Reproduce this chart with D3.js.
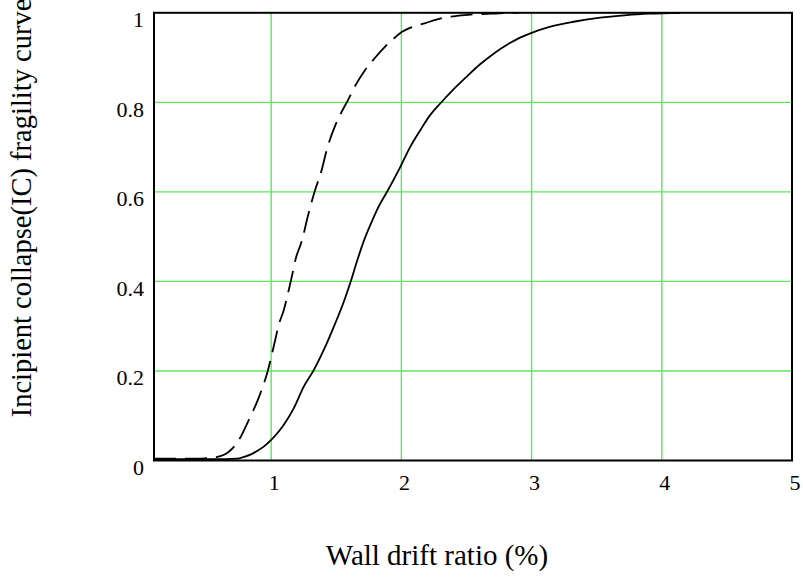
<!DOCTYPE html>
<html>
<head>
<meta charset="utf-8">
<script src="https://cdn.jsdelivr.net/npm/d3@7"></script>
<style>
  html, body { margin: 0; padding: 0; background: #fff; }
  svg { display: block; }
  text { font-family: "Liberation Serif", "Times New Roman", serif; fill: #000; }
</style>
</head>
<body>
<svg id="chart" width="803" height="577"></svg>
<script>
// Wall drift ratio (%) vs. probability of incipient collapse
const driftDashed = [0.1, 0.2, 0.3, 0.4, 0.5, 0.56, 0.6, 0.662, 0.726, 0.77, 0.816, 0.855, 0.893, 0.935, 0.969, 1.0,
  1.03, 1.058, 1.097, 1.135, 1.161, 1.186, 1.238, 1.281, 1.335, 1.384, 1.43, 1.493, 1.54, 1.588, 1.647, 1.711,
  1.793, 1.877, 1.94, 1.992, 2.09, 2.184, 2.26, 2.325, 2.427, 2.53, 2.63, 2.75, 2.9];
const probDashed = [0.004, 0.004, 0.004, 0.004, 0.005, 0.006, 0.009, 0.017, 0.035, 0.055, 0.083, 0.107, 0.132, 0.165, 0.195, 0.231,
  0.268, 0.303, 0.336, 0.381, 0.414, 0.448, 0.493, 0.545, 0.602, 0.645, 0.697, 0.749, 0.778, 0.804, 0.838, 0.868,
  0.898, 0.925, 0.942, 0.955, 0.969, 0.977, 0.984, 0.989, 0.993, 0.996, 0.997, 0.999, 1.0];

const driftSolid = [0.1, 0.3, 0.5, 0.65, 0.74, 0.79, 0.84, 0.89, 0.943, 1.0, 1.05, 1.097, 1.174, 1.25, 1.327, 1.404,
  1.48, 1.557, 1.609, 1.66, 1.711, 1.76, 1.813, 1.903, 1.992, 2.069, 2.15, 2.222, 2.3, 2.4, 2.5, 2.6, 2.683,
  2.76, 2.837, 2.9, 2.99, 3.144, 3.322, 3.527, 3.732, 3.91, 4.14];
const probSolid = [0.003, 0.003, 0.003, 0.003, 0.004, 0.008, 0.013, 0.021, 0.031, 0.046, 0.062, 0.08, 0.117, 0.165, 0.202, 0.247,
  0.298, 0.354, 0.398, 0.446, 0.49, 0.525, 0.56, 0.607, 0.656, 0.701, 0.74, 0.772, 0.798, 0.829, 0.857, 0.884, 0.903,
  0.919, 0.933, 0.943, 0.954, 0.969, 0.98, 0.989, 0.995, 0.998, 1.0];

const xTicks = [1, 2, 3, 4, 5];
const yTicks = [0, 0.2, 0.4, 0.6, 0.8, 1];
const xGrid = [1, 2, 3, 4];
const yGrid = [0.2, 0.4, 0.6, 0.8];

const svg = d3.select("#chart");

const x = d3.scaleLinear().domain([0.1, 5]).range([154, 792]);
const y = d3.scaleLinear().domain([0, 1]).range([460.5, 12.8]);

// grid
const grid = svg.append("g").attr("stroke", "#5be85b").attr("stroke-width", 1.4);
grid.selectAll("line.v").data(xGrid).join("line")
  .attr("x1", d => x(d)).attr("x2", d => x(d))
  .attr("y1", y(0)).attr("y2", y(1));
grid.selectAll("line.h").data(yGrid).join("line")
  .attr("x1", x(0.1)).attr("x2", x(5))
  .attr("y1", d => y(d)).attr("y2", d => y(d));

// curves
const line = d3.line().x(d => x(d[0])).y(d => y(d[1])).curve(d3.curveMonotoneX);
const dashed = driftDashed.map((d, i) => [d, probDashed[i]]);
const solid = driftSolid.map((d, i) => [d, probSolid[i]]);

svg.append("path").datum(solid)
  .attr("d", line).attr("fill", "none")
  .attr("stroke", "#000").attr("stroke-width", 1.8);
svg.append("path").datum(dashed)
  .attr("d", line).attr("fill", "none")
  .attr("stroke", "#000").attr("stroke-width", 1.8)
  .attr("stroke-dasharray", "22,9");

// frame
svg.append("rect")
  .attr("x", x(0.1)).attr("y", y(1))
  .attr("width", x(5) - x(0.1)).attr("height", y(0) - y(1))
  .attr("fill", "none").attr("stroke", "#000").attr("stroke-width", 2);

// tick labels
svg.append("g").selectAll("text").data(xTicks).join("text")
  .attr("x", d => x(d) + 3).attr("y", 490)
  .attr("text-anchor", "middle").attr("font-size", 22)
  .text(d => d);
svg.append("g").selectAll("text").data(yTicks).join("text")
  .attr("x", 144).attr("y", d => y(d) + 14.5)
  .attr("text-anchor", "end").attr("font-size", 22)
  .text(d => d);

// axis titles
svg.append("text")
  .attr("x", 437).attr("y", 565)
  .attr("text-anchor", "middle").attr("font-size", 29)
  .text("Wall drift ratio (%)");
svg.append("text")
  .attr("transform", "translate(30.5,208) rotate(-90)")
  .attr("text-anchor", "middle").attr("font-size", 28.5)
  .text("Incipient collapse(IC) fragility curve");
</script>
</body>
</html>
